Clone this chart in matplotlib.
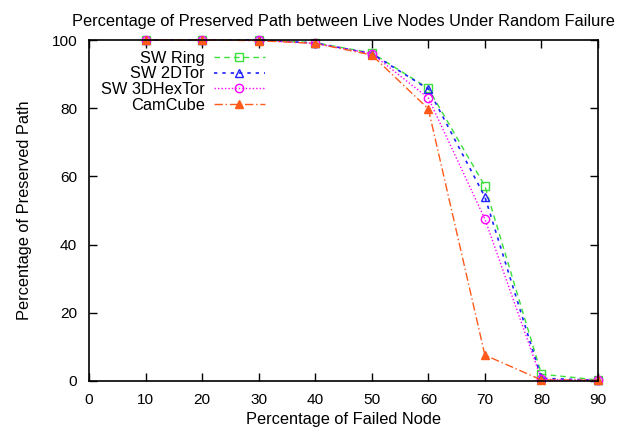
import matplotlib
matplotlib.use("Agg")
import matplotlib.pyplot as plt

plt.rcParams['font.family'] = ['Liberation Sans', 'DejaVu Sans']

failed = [10, 20, 30, 40, 50, 60, 70, 80, 90]
sw_ring = [100, 100, 100, 99.2, 96.2, 85.8, 57.2, 2.0, 0.3]
sw_2dtor = [100, 100, 100, 99.1, 96.0, 85.6, 54.0, 0.8, 0.2]
sw_3dhextor = [100, 100, 99.9, 99.0, 96.0, 83.0, 47.5, 0.5, 0.2]
camcube = [100, 100, 99.8, 99.0, 95.6, 79.8, 7.6, 0.3, 0.2]

x_ticks = [0, 10, 20, 30, 40, 50, 60, 70, 80, 90]
y_ticks = [0, 20, 40, 60, 80, 100]

fs = 11.8

fig = plt.figure(figsize=(6.25, 4.34), dpi=100)
ax = fig.add_axes([89 / 625, 1 - 381 / 434, 509 / 625, 341 / 434])

ax.plot(failed, sw_ring, color='#3be03b', linestyle=(0, (4, 3)), lw=1,
        marker='s', ms=6, mfc='none', mec='#3be03b', label='SW Ring', clip_on=False)
ax.plot(failed, sw_2dtor, color='#2020ff', linestyle=(0, (2, 3)), lw=1.2,
        marker='^', ms=6, mfc='none', mec='#2020ff', label='SW 2DTor', clip_on=False)
ax.plot(failed, sw_3dhextor, color='#ff00ff', linestyle=(0, (1, 1.5)), lw=1,
        marker='o', ms=6, mfc='none', mec='#ff00ff', label='SW 3DHexTor', clip_on=False)
ax.plot(failed, camcube, color='#ff5a1a', linestyle=(0, (6, 2, 1, 2)), lw=1,
        marker='^', ms=6, mfc='#ff5a1a', mec='#ff5a1a', label='CamCube', clip_on=False)

ax.set_xlim(0, 90)
ax.set_ylim(0, 100)
ax.set_xticks(x_ticks)
ax.set_yticks(y_ticks)
ax.tick_params(direction='in', top=True, right=True, length=5.5, width=1,
               labelsize=11.1, pad=8.5)
for s in ax.spines.values():
    s.set_linewidth(1.2)

ax.set_title('Percentage of Preserved Path between Live Nodes Under Random Failure',
             fontsize=fs, pad=10)
ax.set_xlabel('Percentage of Failed Node', fontsize=fs, labelpad=4)
ax.set_ylabel('Percentage of Preserved Path', fontsize=fs, labelpad=14)

ax.legend(loc='upper left', bbox_to_anchor=(0.0236, 0.969), frameon=False,
          markerfirst=False, fontsize=fs, handlelength=3.1, handletextpad=0.55,
          labelspacing=0.05, borderpad=0, borderaxespad=0)

fig.savefig('out.png', dpi=100)
